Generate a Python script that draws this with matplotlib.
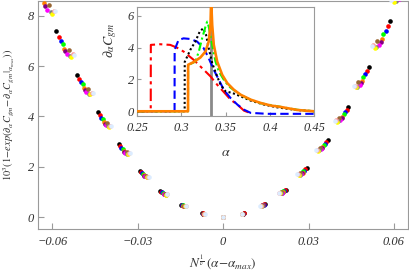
import matplotlib
matplotlib.use("Agg")
from matplotlib import pyplot as plt

# Scatter series (outer -> inner within each cluster)
series_colors = ["black", "#ff0000", "#0000ff", "#00ff00", "#ff8000", "#800080",
                 "#ff00ff", "#996633", "#808080", "#ffff00", "#ff9999", "#dcecff"]

# |x| of the 9 clusters on each side, one row per series
x_pos = [
    [0.0073, 0.0147, 0.0220, 0.0293, 0.0367, 0.0440, 0.0513, 0.0586, 0.0660],
    [0.0072, 0.0145, 0.0217, 0.0289, 0.0362, 0.0434, 0.0506, 0.0578, 0.0651],
    [0.0071, 0.0143, 0.0214, 0.0285, 0.0357, 0.0429, 0.0500, 0.0571, 0.0643],
    [0.0070, 0.0141, 0.0211, 0.0282, 0.0353, 0.0423, 0.0493, 0.0563, 0.0634],
    [0.0069, 0.0140, 0.0209, 0.0279, 0.0349, 0.0419, 0.0488, 0.0558, 0.0628],
    [0.0069, 0.0139, 0.0208, 0.0277, 0.0347, 0.0416, 0.0485, 0.0554, 0.0624],
    [0.0068, 0.0138, 0.0206, 0.0275, 0.0344, 0.0412, 0.0481, 0.0549, 0.0618],
    [0.0068, 0.0136, 0.0204, 0.0271, 0.0339, 0.0407, 0.0475, 0.0542, 0.0611],
    [0.0067, 0.0135, 0.0202, 0.0269, 0.0337, 0.0404, 0.0471, 0.0538, 0.0606],
    [0.0066, 0.0134, 0.0200, 0.0266, 0.0334, 0.0400, 0.0466, 0.0533, 0.0600],
    [0.0066, 0.0132, 0.0198, 0.0264, 0.0330, 0.0396, 0.0462, 0.0527, 0.0594],
    [0.0065, 0.0131, 0.0196, 0.0261, 0.0327, 0.0392, 0.0458, 0.0523, 0.0589],
]

# y on the left side (x<0), same cluster order as x_pos
y_left = [
    [0.15, 0.50, 1.04, 1.84, 2.90, 4.16, 5.66, 7.38, 9.37],
    [0.15, 0.49, 1.01, 1.79, 2.82, 4.04, 5.50, 7.17, 9.11],
    [0.14, 0.47, 0.99, 1.75, 2.75, 3.95, 5.37, 7.00, 8.89],
    [0.14, 0.47, 0.97, 1.72, 2.71, 3.88, 5.28, 6.89, 8.74],
    [0.14, 0.45, 0.94, 1.67, 2.63, 3.77, 5.13, 6.69, 8.49],
    [0.13, 0.45, 0.93, 1.64, 2.59, 3.71, 5.05, 6.59, 8.37],
    [0.13, 0.44, 0.91, 1.62, 2.55, 3.65, 4.97, 6.48, 8.23],
    [0.13, 0.45, 0.93, 1.65, 2.60, 3.74, 5.08, 6.63, 8.41],
    [0.13, 0.43, 0.90, 1.60, 2.52, 3.61, 4.91, 6.41, 8.13],
    [0.13, 0.43, 0.90, 1.59, 2.50, 3.59, 4.88, 6.36, 8.08],
    [0.13, 0.44, 0.91, 1.61, 2.54, 3.64, 4.95, 6.46, 8.20],
    [0.13, 0.44, 0.91, 1.60, 2.53, 3.63, 4.94, 6.44, 8.17],
]

# y on the right side (x>0)
y_right = [
    [0.15, 0.53, 1.10, 1.95, 3.06, 4.39, 5.97, 7.80, 9.89],
    [0.15, 0.52, 1.07, 1.90, 2.97, 4.27, 5.80, 7.58, 9.61],
    [0.14, 0.50, 1.04, 1.85, 2.90, 4.17, 5.67, 7.40, 9.39],
    [0.14, 0.49, 1.03, 1.82, 2.85, 4.10, 5.57, 7.28, 9.23],
    [0.14, 0.48, 1.00, 1.77, 2.77, 3.98, 5.41, 7.07, 8.96],
    [0.13, 0.47, 0.98, 1.74, 2.73, 3.92, 5.33, 6.97, 8.83],
    [0.13, 0.47, 0.97, 1.71, 2.69, 3.85, 5.24, 6.85, 8.68],
    [0.13, 0.48, 0.99, 1.75, 2.75, 3.94, 5.36, 7.00, 8.88],
    [0.13, 0.46, 0.95, 1.69, 2.66, 3.81, 5.18, 6.77, 8.58],
    [0.13, 0.46, 0.95, 1.68, 2.64, 3.78, 5.15, 6.72, 8.53],
    [0.13, 0.46, 0.96, 1.71, 2.68, 3.84, 5.22, 6.83, 8.65],
    [0.13, 0.46, 0.96, 1.70, 2.67, 3.83, 5.21, 6.80, 8.62],
]
y_center = 0.0

main_xticks = [-0.06, -0.03, 0, 0.03, 0.06]
main_xlabels = ["\u22120.06", "\u22120.03", "0", "0.03", "0.06"]
main_yticks = [0, 2, 4, 6, 8]

# Inset curves: alpha grid and derivative values
red_a = [0.25, 0.2655, 0.2656, 0.276, 0.2875, 0.295, 0.3026, 0.314, 0.3235, 0.333,
         0.3405, 0.348, 0.3557, 0.3633, 0.3708, 0.3784]
red_v = [0, 0, 4.17, 4.21, 4.17, 4.0, 3.75, 3.23, 2.71, 2.19,
         1.67, 1.21, 0.73, 0.42, 0.04, -0.12]
blue_a = [0.25, 0.2924, 0.2925, 0.2969, 0.3026, 0.3102, 0.3178, 0.3253, 0.331, 0.3367,
          0.3424, 0.348, 0.3557, 0.3633, 0.3708, 0.3784, 0.3974, 0.45]
blue_v = [0, 0, 3.86, 4.48, 4.58, 4.54, 4.38, 3.96, 3.33, 2.6,
          1.98, 1.35, 0.83, 0.42, 0.1, -0.1, -0.16, -0.16]
black_a = [0.25, 0.3038, 0.3039, 0.3102, 0.3159, 0.3208, 0.3247, 0.328, 0.331, 0.3349,
           0.3398, 0.3443, 0.35, 0.3576, 0.367, 0.3784, 0.3935, 0.408, 0.43, 0.45]
black_v = [0, 0, 3.1, 3.86, 4.38, 5.0, 5.21, 4.79, 3.96, 3.02,
           2.29, 1.67, 1.25, 1.15, 0.94, 0.67, 0.42, 0.25, 0.08, 0.0]
green_a = [0.25, 0.3076, 0.3077, 0.314, 0.3159, 0.3198, 0.3235, 0.3273, 0.3292, 0.331,
           0.3349, 0.3386, 0.3424, 0.348, 0.3538, 0.3594, 0.367, 0.3784, 0.39, 0.41, 0.43, 0.45]
green_v = [0, 0, 2.9, 3.07, 3.13, 3.75, 4.58, 5.31, 5.63, 5.31,
           4.17, 3.13, 2.5, 1.98, 1.56, 1.33, 1.02, 0.72, 0.5, 0.3, 0.1, 0.0]
orange_a = [0.25, 0.3076, 0.3077, 0.314, 0.3216, 0.3273, 0.331, 0.333, 0.3337, 0.3349,
            0.3367, 0.3405, 0.3462, 0.3519, 0.3594, 0.367, 0.3784, 0.3898, 0.4011, 0.4125,
            0.4314, 0.45]
orange_v = [0, 0, 2.92, 3.09, 3.38, 3.75, 4.38, 5.42, 7.0, 5.42,
            4.17, 3.13, 2.29, 1.77, 1.35, 1.04, 0.73, 0.52, 0.36, 0.27,
            0.08, 0.0]
alpha_max = 1 / 3

inset_xticks = [0.25, 0.3, 0.35, 0.4, 0.45]
inset_xlabels = ["0.25", "0.3", "0.35", "0.4", "0.45"]
inset_yticks = [0, 2, 4, 6]

plt.rcParams["mathtext.fontset"] = "stix"
plt.rcParams["mathtext.default"] = "it"
frame_col = "#9a9a9a"
text_col = "#333333"
tick_font = {"family": "Liberation Serif", "style": "italic", "size": 9}

fig = plt.figure(figsize=(4.09, 2.79), dpi=100)

# Main panel
ax = fig.add_axes([0.093, 0.179, 0.905, 0.819])
for i in range(len(series_colors)):
    xs = [-v for v in reversed(x_pos[i])] + [0.0] + x_pos[i]
    ys = list(reversed(y_left[i])) + [y_center] + y_right[i]
    ax.scatter(xs, ys, s=11, color=series_colors[i], linewidths=0, zorder=2 + i)
ax.set_xlim(-0.065, 0.065)
ax.set_ylim(-0.47, 8.6)
ax.set_xticks(main_xticks)
ax.set_xticklabels(main_xlabels, fontdict=tick_font, color=text_col)
ax.set_yticks(main_yticks)
ax.set_yticklabels([str(v) for v in main_yticks], fontdict=tick_font, color=text_col)
ax.tick_params(direction="in", length=4, width=0.8, color=frame_col, pad=5)
ax.tick_params(axis="y", pad=3)
for sp in ax.spines.values():
    sp.set_color(frame_col)
ax.set_xlabel(r"$N^{\frac{1}{\nu}}\,(\alpha\!-\!\alpha_{max})$", fontsize=9.5,
              color=text_col, labelpad=4)
ax.set_ylabel(r"$10^3(1\!-\!exp(\partial_\alpha C_{gm}\!-\!\partial_\alpha C_{gm}|_{\alpha_{max}}))$",
              fontsize=7.5, color=text_col)
ax.yaxis.set_label_coords(-0.058, 0.5)

# Inset
ins = fig.add_axes([0.335, 0.584, 0.433, 0.391])
ins.axvline(alpha_max, color="#8a8a8a", lw=2, zorder=1)
ins.plot(red_a, red_v, color="#ff0000", lw=1.5, dashes=(6, 2, 1.5, 2), zorder=2)
ins.plot(blue_a, blue_v, color="#0000ff", lw=1.5, dashes=(4, 2), zorder=3)
ins.plot(black_a, black_v, color="black", lw=1.5, dashes=(1, 1.2), zorder=4)
ins.plot(green_a, green_v, color="#00ff00", lw=1.5, dashes=(4, 1.5, 1, 1.5), zorder=5)
ins.plot(orange_a, orange_v, color="#ff8000", lw=1.9, zorder=6)
ins.set_xlim(0.25, 0.45)
ins.set_ylim(-0.3, 6.55)
ins.set_xticks(inset_xticks)
ins.set_xticklabels(inset_xlabels, fontdict=tick_font, color=text_col)
ins.set_yticks(inset_yticks)
ins.set_yticklabels([str(v) for v in inset_yticks], fontdict=tick_font, color=text_col)
ins.tick_params(direction="in", length=3, width=0.8, color=frame_col, pad=4)
ins.tick_params(axis="y", pad=2)
for sp in ins.spines.values():
    sp.set_color(frame_col)
ins.set_xlabel(r"$\alpha$", fontsize=10, color=text_col, labelpad=8)
ins.set_ylabel(r"$\partial_\alpha C_{gm}$", fontsize=10, color=text_col)
ins.yaxis.set_label_coords(-0.1, 0.7)

fig.savefig("out.png", dpi=100)
